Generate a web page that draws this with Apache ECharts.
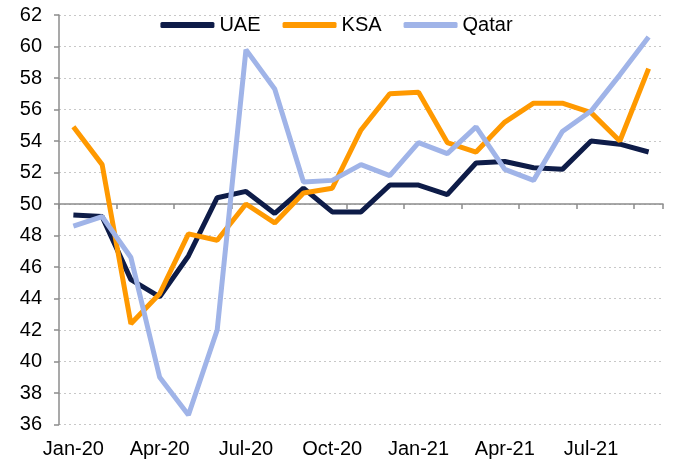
<!DOCTYPE html>
<html>
<head>
<meta charset="utf-8">
<script src="https://cdn.jsdelivr.net/npm/echarts@6/dist/echarts.min.js"></script>
<style>
  html, body { margin: 0; padding: 0; background: #fff; }
  #chart { width: 673px; height: 464px; }
</style>
</head>
<body>
<div id="chart"></div>
<script>
// monthly PMI readings
var months = ['Jan-20', 'Feb-20', 'Mar-20', 'Apr-20', 'May-20', 'Jun-20', 'Jul-20', 'Aug-20', 'Sep-20',
  'Oct-20', 'Nov-20', 'Dec-20', 'Jan-21', 'Feb-21', 'Mar-21', 'Apr-21', 'May-21', 'Jun-21', 'Jul-21',
  'Aug-21', 'Sep-21'];
var uae = [49.3, 49.2, 45.2, 44.1, 46.7, 50.4, 50.8, 49.4, 51.0, 49.5, 49.5, 51.2, 51.2, 50.6, 52.6,
  52.7, 52.3, 52.2, 54.0, 53.8, 53.3];
var ksa = [54.9, 52.5, 42.4, 44.3, 48.1, 47.7, 50.0, 48.8, 50.7, 51.0, 54.7, 57.0, 57.1, 53.9, 53.3,
  55.2, 56.4, 56.4, 55.8, 54.0, 58.6];
var qatar = [48.6, 49.2, 46.6, 39.0, 36.6, 42.0, 59.8, 57.3, 51.4, 51.5, 52.5, 51.8, 53.9, 53.2, 54.9,
  52.2, 51.5, 54.6, 55.9, 58.2, 60.6];
var yMin = 36, yMax = 62, yStep = 2;

var chart = echarts.init(document.getElementById('chart'));
var font = '"Liberation Sans", Arial, sans-serif';

var option = {
  animation: false,
  textStyle: { fontFamily: font },
  legend: {
    top: 10,
    left: 'center',
    icon: 'roundRect',
    itemWidth: 54,
    itemHeight: 6,
    itemGap: 22,
    textStyle: { fontSize: 20, color: '#000', fontFamily: font },
    data: ['UAE', 'KSA', 'Qatar']
  },
  grid: { left: 59, right: 10, top: 15, bottom: 39.5 },
  xAxis: [
    {
      type: 'category',
      data: months,
      boundaryGap: true,
      axisLine: { show: false },
      axisTick: { show: false },
      axisLabel: { interval: 2, fontSize: 20, color: '#000', margin: 15, fontFamily: font }
    },
    {
      // axis line crossing at 50
      type: 'category',
      data: months,
      position: 'bottom',
      offset: -220.5,
      boundaryGap: true,
      axisLine: { show: true, lineStyle: { color: '#8c8c8c', width: 1.5 } },
      axisTick: { show: true, length: 5, lineStyle: { color: '#8c8c8c', width: 1.5 } },
      axisLabel: { show: false }
    }
  ],
  yAxis: {
    type: 'value',
    min: yMin,
    max: yMax,
    interval: yStep,
    axisLine: { show: true, lineStyle: { color: '#8c8c8c', width: 1.5 } },
    axisTick: { show: true, length: 5, lineStyle: { color: '#8c8c8c', width: 1.5 } },
    axisLabel: { fontSize: 20, color: '#000', margin: 17, fontFamily: font },
    splitLine: { show: true, lineStyle: { color: '#c8c8c8', type: [2, 3], width: 1 } }
  },
  series: [
    {
      name: 'UAE', type: 'line', data: uae, symbol: 'none',
      lineStyle: { color: '#0e1c48', width: 5 }, itemStyle: { color: '#0e1c48' }
    },
    {
      name: 'KSA', type: 'line', data: ksa, symbol: 'none',
      lineStyle: { color: '#ff9900', width: 5 }, itemStyle: { color: '#ff9900' }
    },
    {
      name: 'Qatar', type: 'line', data: qatar, symbol: 'none',
      lineStyle: { color: '#a0b4e8', width: 5 }, itemStyle: { color: '#a0b4e8' }
    }
  ]
};
chart.setOption(option);
window.addEventListener('resize', function () {
  chart.resize();
});
</script>
</body>
</html>
